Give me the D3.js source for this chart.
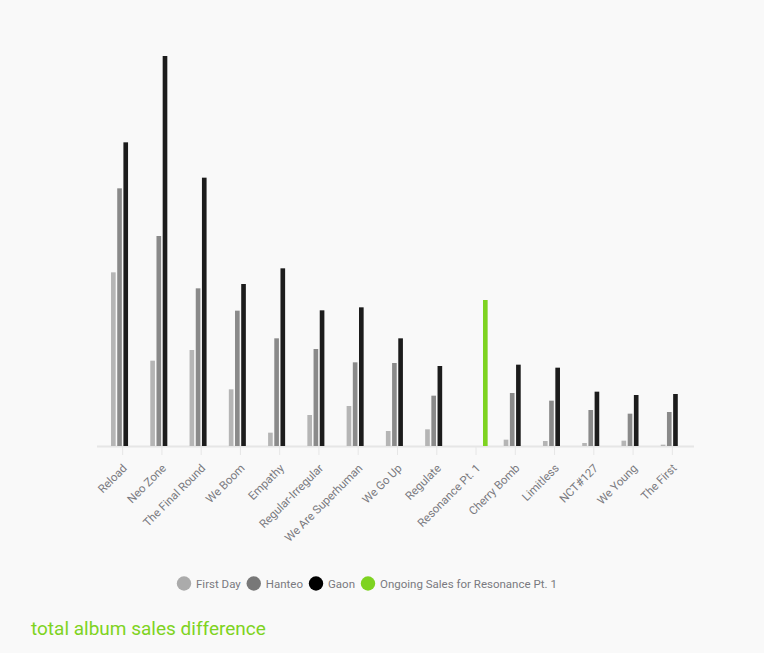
<!DOCTYPE html>
<html>
<head>
<meta charset="utf-8">
<script src="https://cdn.jsdelivr.net/npm/d3@7"></script>
<style>
  html, body { margin: 0; padding: 0; background: #f9f9f9; }
  svg { display: block; }
  text { font-family: Roboto, "Noto Sans", sans-serif; }
</style>
</head>
<body>
<svg id="chart" width="764" height="653"></svg>
<script>
const albums = ["Reload", "Neo Zone", "The Final Round", "We Boom", "Empathy", "Regular-Irregular",
  "We Are Superhuman", "We Go Up", "Regulate", "Resonance Pt. 1", "Cherry Bomb", "Limitless",
  "NCT#127", "We Young", "The First"];
const seriesNames = ["First Day", "Hanteo", "Gaon", "Ongoing Sales for Resonance Pt. 1"];
const seriesColors = ["#b5b5b5", "#8a8a8a", "#1c1c1c", "#7ed321"];
const legendColors = ["#ababab", "#787878", "#000000", "#7ed321"];
// values in thousands (estimated)
const firstDay = [521, 256, 288, 170, 40, 93, 120, 45, 50, 0, 19, 15, 9, 16, 4];
const hanteo   = [773, 630, 473, 406, 323, 291, 251, 249, 151, 0, 159, 136, 108, 97, 102];
const gaon     = [911, 1170, 805, 486, 533, 407, 416, 323, 240, 0, 244, 235, 163, 153, 156];
const ongoing  = [0, 0, 0, 0, 0, 0, 0, 0, 0, 438, 0, 0, 0, 0, 0];
const yMax = 1170;
const title = "total album sales difference";

const svg = d3.select("#chart");
const baseY = 446, topY = 56;

const x0 = d3.scaleBand().domain(albums).range([103, 692]).paddingInner(0.33).paddingOuter(0.165);
const x1 = d3.scaleBand().domain(seriesNames).range([0, x0.bandwidth()]).padding(0.25);
const y = d3.scaleLinear().domain([0, yMax]).range([baseY, topY]);

const seriesData = [firstDay, hanteo, gaon, ongoing];

// axis
const xAxis = d3.axisBottom(x0).tickSize(9).tickSizeOuter(0);
const gx = svg.append("g").attr("transform", `translate(0,${baseY})`).call(xAxis);
gx.select(".domain").attr("stroke", "#e6e6e6").attr("stroke-width", 2)
  .attr("d", `M97,0.5H694`);
gx.selectAll(".tick line").attr("stroke", "#e6e6e6");
gx.selectAll(".tick text")
  .attr("fill", "#7a7a80")
  .attr("font-size", "11.5px")
  .attr("text-anchor", "end")
  .attr("dx", "-1.1em")
  .attr("dy", "0.5em")
  .attr("transform", "rotate(-45)")
  .attr("y", 14)
  .attr("x", 0);

// bars
const groups = svg.append("g").selectAll("g").data(albums).join("g")
  .attr("transform", d => `translate(${x0(d)},0)`);
groups.selectAll("rect")
  .data((d, i) => seriesNames.map((s, k) => ({ s, k, v: seriesData[k][i] })).filter(o => o.v > 0))
  .join("rect")
  .attr("x", o => x1(o.s))
  .attr("width", x1.bandwidth())
  .attr("y", o => y(o.v))
  .attr("height", o => baseY - y(o.v))
  .attr("fill", o => seriesColors[o.k]);

// legend
const legend = svg.append("g").attr("transform", "translate(177,583.5)");
let lx = 0;
seriesNames.forEach((s, k) => {
  const g = legend.append("g").attr("transform", `translate(${lx},0)`);
  g.append("circle").attr("cx", 7).attr("cy", 0).attr("r", 7.2).attr("fill", legendColors[k]);
  const t = g.append("text").attr("x", 19).attr("y", 0).attr("dy", "0.35em")
    .attr("fill", "#7a7a80").attr("font-size", "11.5px").text(s);
  lx += 19 + t.node().getComputedTextLength() + 6;
});

// title
svg.append("text").attr("x", 31).attr("y", 635).attr("fill", "#7ed321")
  .attr("font-size", "19px").text(title);
</script>
</body>
</html>
